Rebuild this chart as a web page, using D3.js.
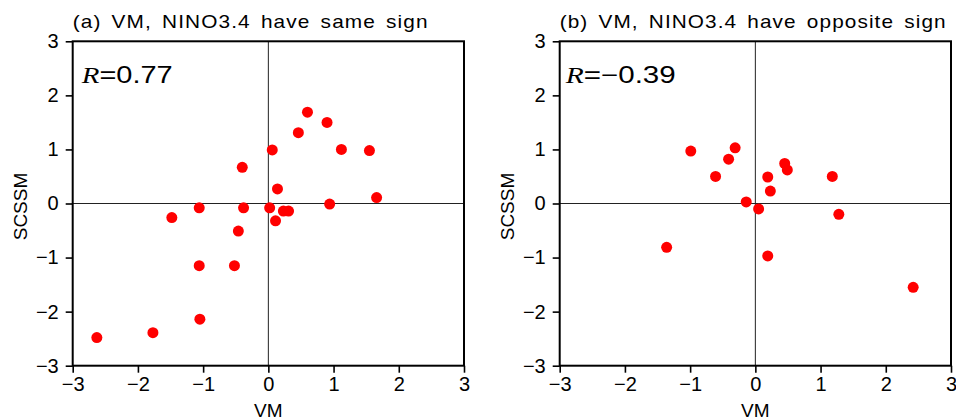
<!DOCTYPE html>
<html>
<head>
<meta charset="utf-8">
<script src="https://cdn.jsdelivr.net/npm/d3@7"></script>
<style>
  body { margin: 0; background: #fff; }
  text { font-family: "Liberation Sans", Arial, sans-serif; fill: #000; }
</style>
</head>
<body>
<svg id="chart" width="956" height="420"></svg>
<script>
// panel (a): VM and NINO3.4 same sign
var vmSame = [0.60, 0.90, 0.46, 0.06, 1.12, 1.55, -0.40, 0.14, 1.66, 0.94,
              -1.06, -1.48, -0.38, 0.02, 0.23, 0.31, 0.11, -0.46, -1.06, -0.52,
              -1.05, -1.77, -2.63];
var scssmSame = [1.69, 1.50, 1.31, 0.99, 1.00, 0.98, 0.67, 0.27, 0.11, -0.01,
                 -0.08, -0.26, -0.08, -0.08, -0.14, -0.14, -0.32, -0.51, -1.15, -1.15,
                 -2.14, -2.39, -2.48];

// panel (b): VM and NINO3.4 opposite sign
var vmOpp = [-0.99, -0.31, -0.41, -0.61, 0.19, 0.45, 0.49, 0.23, 1.18, -0.14,
             0.05, 1.28, -1.36, 0.19, 2.42];
var scssmOpp = [0.97, 1.03, 0.82, 0.50, 0.49, 0.74, 0.62, 0.23, 0.50, 0.03,
                -0.10, -0.20, -0.81, -0.97, -1.55];

var ticks = [-3, -2, -1, 0, 1, 2, 3];
var panelTitles = ["(a) VM, NINO3.4 have same sign", "(b) VM, NINO3.4 have opposite sign"];
var corrText = ["0.77", "\u22120.39"];

var svg = d3.select("#chart");

var pw = 391.3, ph = 324.4, plotTop = 41.3;
var lefts = [72.7, 559.7];
var titleWidths = [356, 387];
var corrWidths = [91, 110];

function drawPanel(i, xs, ys) {
  var g = svg.append("g").attr("transform", `translate(${lefts[i]},${plotTop})`);

  var x = d3.scaleLinear().domain([-3, 3]).range([0, pw]);
  var y = d3.scaleLinear().domain([-3, 3]).range([ph, 0]);

  // zero lines
  g.append("line")
    .attr("x1", x(0)).attr("x2", x(0)).attr("y1", 0).attr("y2", ph)
    .style("stroke", "#222").style("stroke-width", 1);
  g.append("line")
    .attr("x1", 0).attr("x2", pw).attr("y1", y(0)).attr("y2", y(0))
    .style("stroke", "#222").style("stroke-width", 1);

  // points
  g.selectAll("circle")
    .data(d3.zip(xs, ys))
    .enter()
    .append("circle")
    .attr("cx", d => x(d[0]))
    .attr("cy", d => y(d[1]))
    .attr("r", 5.5)
    .style("fill", "#ff0000");

  // axes
  var fmt = d3.format("d");
  var xa = g.append("g").attr("transform", `translate(0,${ph})`)
    .call(d3.axisBottom(x).tickValues(ticks).tickFormat(fmt).tickSize(7).tickPadding(4));
  var ya = g.append("g")
    .call(d3.axisLeft(y).tickValues(ticks).tickFormat(fmt).tickSize(7).tickPadding(7));
  [xa, ya].forEach(function(a) {
    a.select(".domain").remove();
    a.selectAll("line").style("stroke", "#000").style("stroke-width", 1.6);
    a.selectAll("text").style("font-size", "20px").style("fill", "#000")
      .style("font-family", "'Liberation Sans', Arial, sans-serif");
  });

  // frame
  g.append("rect")
    .attr("width", pw).attr("height", ph)
    .style("fill", "none").style("stroke", "#000").style("stroke-width", 2);

  // title
  svg.append("text")
    .attr("x", lefts[i]).attr("y", 28)
    .attr("textLength", titleWidths[i])
    .attr("lengthAdjust", "spacingAndGlyphs")
    .style("font-size", "19px")
    .style("word-spacing", "3px")
    .style("letter-spacing", "1px")
    .text(panelTitles[i]);

  // correlation
  var r = svg.append("text")
    .attr("x", lefts[i] + (i == 0 ? 9 : 6)).attr("y", 83)
    .attr("textLength", corrWidths[i])
    .attr("lengthAdjust", "spacingAndGlyphs")
    .style("font-size", "23px");
  r.append("tspan")
    .style("font-family", "'Liberation Serif', 'DejaVu Serif', serif")
    .style("font-style", "italic")
    .text("R");
  r.append("tspan").text("=" + corrText[i]);

  // axis labels
  svg.append("text")
    .attr("x", lefts[i] + pw / 2).attr("y", 417)
    .attr("text-anchor", "middle")
    .style("font-size", "19px")
    .text("VM");
  svg.append("text")
    .attr("transform", `translate(${lefts[i] - 46},${plotTop + ph / 2 + 3}) rotate(-90)`)
    .attr("text-anchor", "middle")
    .style("font-size", "19px")
    .text("SCSSM");
}

drawPanel(0, vmSame, scssmSame);
drawPanel(1, vmOpp, scssmOpp);
</script>
</body>
</html>
